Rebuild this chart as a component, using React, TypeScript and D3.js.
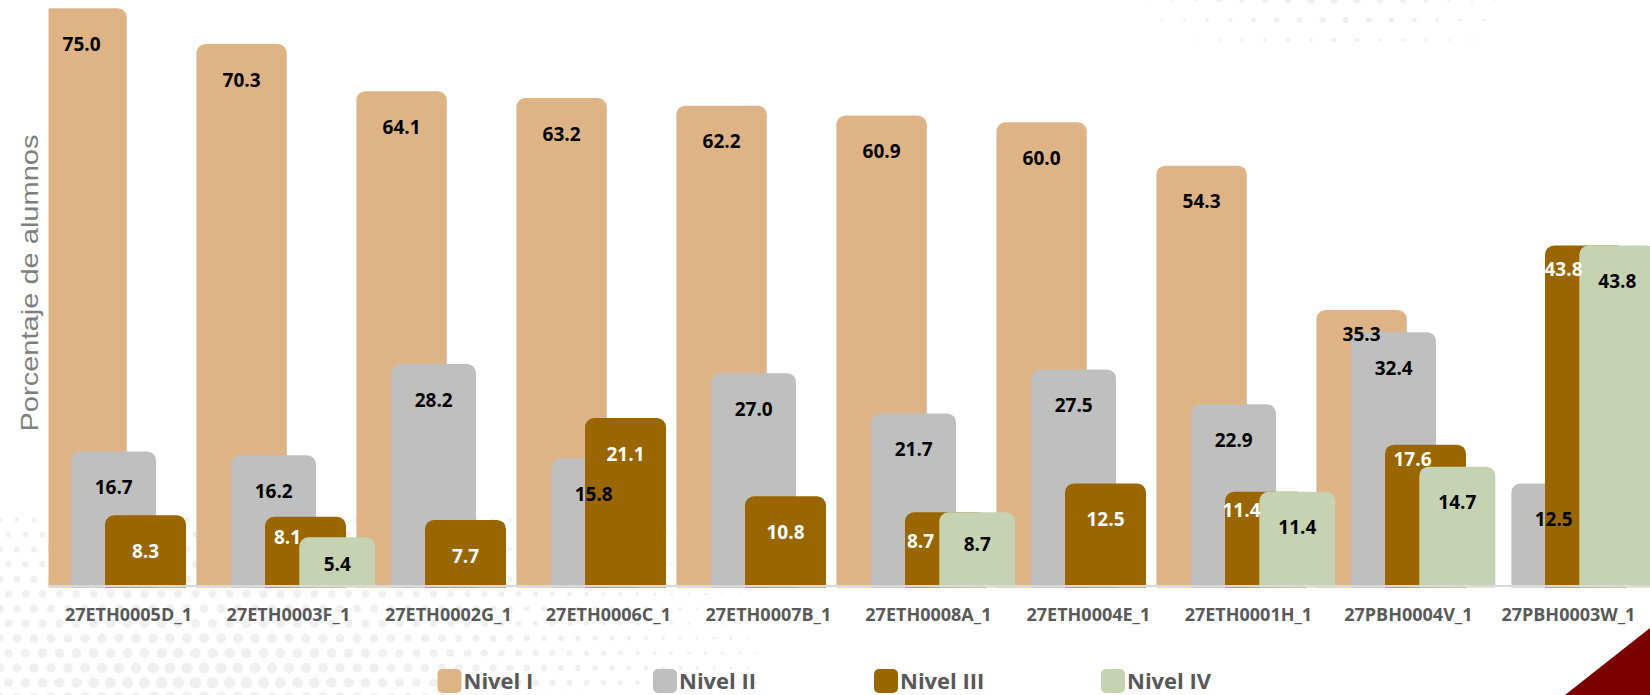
import React from "react";
import * as d3 from "d3";

// ---------- DATA ----------
const categories = [
  "27ETH0005D_1",
  "27ETH0003F_1",
  "27ETH0002G_1",
  "27ETH0006C_1",
  "27ETH0007B_1",
  "27ETH0008A_1",
  "27ETH0004E_1",
  "27ETH0001H_1",
  "27PBH0004V_1",
  "27PBH0003W_1",
];
const seriesNames = ["Nivel I", "Nivel II", "Nivel III", "Nivel IV"];
const nivelI: (number | null)[] = [75.0, 70.3, 64.1, 63.2, 62.2, 60.9, 60.0, 54.3, 35.3, null];
const nivelII: (number | null)[] = [16.7, 16.2, 28.2, 15.8, 27.0, 21.7, 27.5, 22.9, 32.4, 12.5];
const nivelIII: (number | null)[] = [8.3, 8.1, 7.7, 21.1, 10.8, 8.7, 12.5, 11.4, 17.6, 43.8];
const nivelIV: (number | null)[] = [null, 5.4, null, null, null, 8.7, null, 11.4, 14.7, 43.8];
const yAxisTitle = "Porcentaje de alumnos";

// ---------- STYLE / LAYOUT ----------
const W = 1650;
const H = 695;
const seriesValues = [nivelI, nivelII, nivelIII, nivelIV];
const seriesColors = ["#DEB486", "#BFBFBF", "#996600", "#C5D3B3"];
const labelColors = ["#000000", "#000000", "#FFFFFF", "#000000"];
const seriesOffset = [0, 35, 68.6, 102.9];
const seriesWidth = [90.4, 84.6, 81, 76];
const legendX = [437.5, 653, 874, 1101];
// manual label nudges (series-category): [dx, dy]
const labelNudge: Record<string, [number, number]> = {
  "2-1": [-18, -15],
  "3-1": [0, -9],
  "2-5": [-25, -7],
  "3-5": [0, -4],
  "2-7": [-24, -17],
  "0-8": [0, -12],
  "2-8": [-13, -21],
  "2-9": [-22, -12],
};

const x = d3.scaleBand<string>().domain(categories).range([36.4, 36.4 + 160 * categories.length]).padding(0);
const y = d3.scaleLinear().domain([-1, 76.1]).range([586, 0]);
const baseY = y(-1) + 1.5;

function topRounded(x0: number, top: number, w: number, bottom: number, r: number) {
  const rr = Math.min(r, w / 2, (bottom - top) / 2);
  const p = d3.path();
  p.moveTo(x0, bottom);
  p.lineTo(x0, top + rr);
  p.arcTo(x0, top, x0 + rr, top, rr);
  p.lineTo(x0 + w - rr, top);
  p.arcTo(x0 + w, top, x0 + w, top + rr, rr);
  p.lineTo(x0 + w, bottom);
  p.closePath();
  return p.toString();
}

// decorative halftone dots
function halftone(cx: number, cy: number, R: number, rMax: number, x0: number, x1: number, y0: number, y1: number, step: number) {
  const dots: { x: number; y: number; r: number }[] = [];
  let row = 0;
  for (let yy = y0; yy <= y1; yy += step * 0.87, row++) {
    for (let xx = x0 + (row % 2 ? step / 2 : 0); xx <= x1; xx += step) {
      const d = Math.hypot((xx - cx) * 0.8, (yy - cy) * 1.6);
      const r = rMax * (1 - d / R);
      if (r > 0.9) dots.push({ x: xx, y: yy, r });
    }
  }
  return dots;
}
const dotsBL = halftone(200, 720, 560, 6.5, 0, 760, 520, 700, 17);
const dotsTR = halftone(1330, -20, 190, 4.5, 1150, 1520, 0, 50, 23);

export default function App() {
  return (
    <svg width={W} height={H} style={{ display: "block", position: "absolute", left: 0, top: 0 }} fontFamily="'Open Sans', sans-serif">
      <rect x={0} y={0} width={W} height={H} fill="#FFFFFF" />
      <g fill="#F0F0F0">
        {dotsBL.map((d, i) => (
          <circle key={"bl" + i} cx={d.x} cy={d.y} r={d.r} />
        ))}
        {dotsTR.map((d, i) => (
          <circle key={"tr" + i} cx={d.x} cy={d.y} r={d.r} />
        ))}
      </g>
      <defs>
        <clipPath id="plotClip">
          <rect x={48.5} y={0} width={W - 48.5} height={H} />
        </clipPath>
      </defs>
      <g clipPath="url(#plotClip)">
        {seriesValues.map((vals, s) => (
          <g key={s} fill={seriesColors[s]}>
            {vals.map((v, c) =>
              v == null ? null : (
                <path
                  key={c}
                  d={topRounded((x(categories[c]) as number) + seriesOffset[s], y(v), seriesWidth[s], baseY, 9)}
                />
              )
            )}
          </g>
        ))}
      </g>
      <line x1={48.5} x2={W} y1={586} y2={586} stroke="#D9D9D9" strokeWidth={2} />
      <g fontWeight={700} fontSize={19} textAnchor="middle">
        {seriesValues.map((vals, s) =>
          vals.map((v, c) => {
            if (v == null) return null;
            const n = labelNudge[`${s}-${c}`] || [0, 0];
            const cx = (x(categories[c]) as number) + seriesOffset[s] + seriesWidth[s] / 2 + n[0];
            const cy = y(v) + 36 + n[1];
            return (
              <text key={`${s}-${c}`} x={cx} y={cy} dy="0.35em" fill={labelColors[s]}>
                {v.toFixed(1)}
              </text>
            );
          })
        )}
      </g>
      <g fontWeight={700} fontSize={18} fill="#595959" textAnchor="middle">
        {categories.map((c) => (
          <text key={c} x={(x(c) as number) + 92} y={615} dy="0.35em">
            {c}
          </text>
        ))}
      </g>
      <text
        transform={`translate(30,283) rotate(-90)`}
        textAnchor="middle"
        dy="0.35em"
        fontFamily="'Liberation Sans', Arial, sans-serif"
        fontSize={24}
        fill="#7F7F7F"
        textLength={297}
        lengthAdjust="spacingAndGlyphs"
      >
        {yAxisTitle}
      </text>
      <g>
        {seriesNames.map((name, i) => (
          <g key={name} transform={`translate(${legendX[i]},669)`}>
            <rect x={0} y={0} width={24} height={24} rx={5} fill={seriesColors[i]} />
            <text x={26} y={12} dy="0.35em" fontSize={22} fontWeight={700} fill="#595959">
              {name}
            </text>
          </g>
        ))}
      </g>
      <polygon points={`1565,${H} ${W},${H} ${W},628`} fill="#7B0000" />
    </svg>
  );
}
